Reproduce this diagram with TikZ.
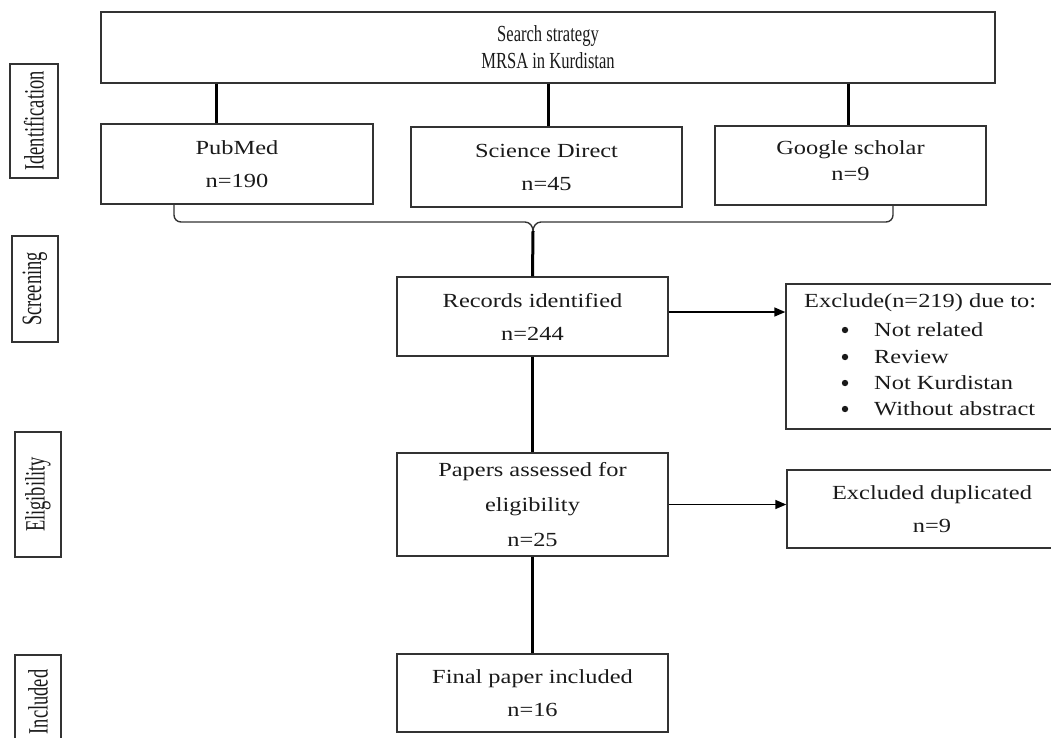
\documentclass[tikz,border=0pt]{standalone}
\usepackage{fontspec}
\setmainfont{Liberation Serif}[FakeStretch=1.22]
\newfontfamily\sidefont{Liberation Serif}[FakeStretch=0.66]
\newfontfamily\narrowfont{Liberation Serif}[FakeStretch=0.72]
\usetikzlibrary{arrows.meta}
\definecolor{boxgray}{HTML}{333333}
\definecolor{ink}{HTML}{1A1A1A}
\begin{document}
\begin{tikzpicture}[x=1pt,y=-1pt,
  box/.style={draw=boxgray, line width=1.4pt, rectangle, inner sep=0pt, align=center,
    text=ink, font=\fontsize{20}{33}\selectfont},
  sidebox/.style={draw=boxgray, line width=1.4pt, rectangle, inner sep=0pt, rotate=90,
    text=ink, font=\sidefont\fontsize{28}{30}\selectfont},
  conn/.style={line width=3pt, black},
  arr/.style={line width=1.5pt, black, -{Triangle[length=11pt,width=9pt]}},
  brace/.style={line width=1.4pt, boxgray},
  txt/.style={inner sep=0pt, text=ink, font=\fontsize{20}{24}\selectfont, anchor=west},
]
\useasboundingbox (0,0) rectangle (1051,737);
\clip (0,0) rectangle (1051,737);

% side labels (rotated: minimum width = vertical extent)
\node[sidebox, minimum width=114, minimum height=48] (ident) at (34,121) {Identification};
\node[sidebox, minimum width=106, minimum height=46] (screen) at (35,289) {Screening};
\node[sidebox, minimum width=125, minimum height=46] (elig) at (38,494.5) {Eligibility};
\node[sidebox, minimum width=130, minimum height=46] (incl) at (38,720) {};
\node[inner sep=0pt, rotate=90, text=ink, font=\sidefont\fontsize{28}{30}\selectfont] (incltxt) at (38,702) {Included};

% main boxes
\node[box, minimum width=894, minimum height=71, font=\narrowfont\fontsize{23}{27}\selectfont] (top) at (548,47.5)
  {Search strategy\\MRSA in Kurdistan};
\node[box, minimum width=272, minimum height=80] (pm) at (237,164) {PubMed\\n=190};
\node[box, minimum width=271, minimum height=80] (sd) at (546.5,167) {Science Direct\\n=45};
\node[box, minimum width=271, minimum height=79, font=\fontsize{20}{26}\selectfont] (gs) at (850.5,165.5)
  {\raisebox{9pt}{Google scholar}\\\raisebox{9pt}{n=9}};
\node[box, minimum width=271, minimum height=79] (rec) at (532.5,316.5) {Records identified\\n=244};
\node[box, minimum width=271, minimum height=103, font=\fontsize{20}{35}\selectfont] (pap) at (532.5,504.5)
  {Papers assessed for\\eligibility\\n=25};
\node[box, minimum width=271, minimum height=78] (fin) at (532.5,693) {Final paper included\\n=16};
\node[box, minimum width=290, minimum height=145] (exc) at (931,356.5) {};
\node[box, minimum width=290, minimum height=78] (exd) at (932,509) {Excluded duplicated\\n=9};

% exclude list
\node[txt] (exct) at (804,303) {Exclude(n=219) due to:};
\node[txt] (e1) at (874,330) {Not related};
\node[txt] (e2) at (874,357) {Review};
\node[txt] (e3) at (874,383) {Not Kurdistan};
\node[txt] (e4) at (874,409) {Without abstract};
\foreach \yy in {330,357,383,409} \fill[ink] (845,\yy) circle (3.2);

% connectors from top box
\draw[conn] (top.south -| 216,0) -- (pm.north -| 216,0);
\draw[conn] (top.south -| 548,0) -- (sd.north -| 548,0);
\draw[conn] (top.south -| 848,0) -- (gs.north -| 848,0);

% brace
\coordinate (bl) at (174,204);
\coordinate (br) at (893,205);
\coordinate (cp) at (533,231);
\draw[brace] (bl) -- (174,215) to[out=-90,in=180] (181,222) -- (525,222)
  to[out=0,in=90] (cp) to[out=90,in=180] (541,222) -- (886,222)
  to[out=0,in=-90] (893,215) -- (br);
\draw[conn] (cp) -- (rec.north);

% main flow
\draw[conn] (rec.south) -- (pap.north);
\draw[conn] (pap.south) -- (fin.north);
\coordinate (r1) at ([yshift=4.5pt]rec.east);
\draw[arr] (r1) -- (r1 -| exc.west);
\draw[arr] (pap.east) -- (pap.east -| exd.west);
\end{tikzpicture}
\end{document}
